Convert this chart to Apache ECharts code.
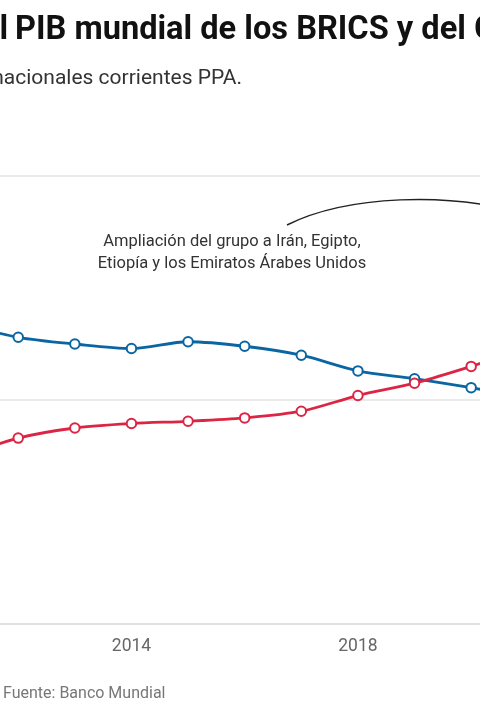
<!DOCTYPE html>
<html>
<head>
<meta charset="utf-8">
<script src="https://cdn.jsdelivr.net/npm/echarts@6/dist/echarts.min.js"></script>
<style>
  html, body { margin: 0; padding: 0; background: #fff; overflow: hidden; }
  #brics-g7-chart { width: 480px; height: 720px; }
</style>
</head>
<body>
<div id="brics-g7-chart"></div>
<script>
// share of world GDP, % (PPP, current international $)
const years = ['2010', '2011', '2012', '2013', '2014', '2015', '2016', '2017', '2018', '2019', '2020', '2021', '2022', '2023'];
const g7 = [34.0, 33.4, 32.8, 32.5, 32.3, 32.6, 32.4, 32.0, 31.3, 30.95, 30.55, 30.1, 29.9, 29.7];
const brics = [26.8, 27.5, 28.3, 28.75, 28.95, 29.05, 29.2, 29.5, 30.2, 30.75, 31.5, 32.3, 32.7, 33.0];
const yTicks = { min: 20, max: 40, interval: 10 };

const dom = document.getElementById('brics-g7-chart');
const myChart = echarts.init(dom);

const option = {
  animation: false,
  backgroundColor: '#fff',
  textStyle: { fontFamily: 'Roboto' },
  grid: {
    // the chart is wider than the window: only 2012-2020 shows
    left: -95,
    right: -161,
    top: 176,
    bottom: 96,
    outerBoundsMode: 'none',
    containLabel: false
  },
  xAxis: {
    type: 'category',
    data: years,
    boundaryGap: false,
    axisLine: { lineStyle: { color: '#dedede', width: 1.5 } },
    axisTick: { show: false },
    axisLabel: { interval: 3, color: '#666', fontSize: 17.5, margin: 14 }
  },
  yAxis: {
    type: 'value',
    min: yTicks.min,
    max: yTicks.max,
    interval: yTicks.interval,
    axisLine: { show: false },
    axisTick: { show: false },
    axisLabel: { show: false },
    splitLine: { lineStyle: { color: '#e3e3e3', width: 1.5 } }
  },
  series: [
    {
      name: 'G7',
      type: 'line',
      data: g7,
      smooth: 0.3,
      symbol: 'emptyCircle',
      symbolSize: 9.5,
      lineStyle: { color: '#0a66a2', width: 2.8 },
      itemStyle: { color: '#0a66a2', borderWidth: 3 }
    },
    {
      name: 'BRICS',
      type: 'line',
      data: brics,
      smooth: 0.3,
      symbol: 'emptyCircle',
      symbolSize: 9.5,
      lineStyle: { color: '#dc2545', width: 2.8 },
      itemStyle: { color: '#dc2545', borderWidth: 3 }
    }
  ],
  graphic: [
    {
      type: 'text', x: 8, y: 31,
      style: { text: 'Participación en el', align: 'right', verticalAlign: 'middle',
        font: 'bold 32.6px Roboto', fill: '#111' }
    },
    {
      type: 'text', x: 15, y: 31,
      style: { text: 'PIB mundial de los BRICS y del G7', align: 'left', verticalAlign: 'middle',
        font: 'bold 32.6px Roboto', fill: '#111' }
    },
    {
      type: 'text', x: 242, y: 79,
      style: { text: 'Porcentaje del PIB mundial en dólares internacionales corrientes PPA.', align: 'right',
        verticalAlign: 'middle', font: '21px Roboto', fill: '#333' }
    },
    {
      type: 'text', x: 232, y: 252.5,
      style: { text: 'Ampliación del grupo a Irán, Egipto,\nEtiopía y los Emiratos Árabes Unidos',
        align: 'center', verticalAlign: 'middle', font: '16.5px Roboto', lineHeight: 22, fill: '#333' }
    },
    {
      type: 'bezierCurve',
      shape: { x1: 287, y1: 225, cpx1: 345, cpy1: 196, cpx2: 450, cpy2: 190, x2: 530, y2: 216 },
      style: { stroke: '#222', lineWidth: 1.5, fill: null }
    },
    {
      type: 'text', x: 3, y: 694,
      style: { text: 'Fuente: Banco Mundial', align: 'left', verticalAlign: 'middle',
        font: '16px Roboto', fill: '#777' }
    }
  ]
};
myChart.setOption(option);
</script>
</body>
</html>
